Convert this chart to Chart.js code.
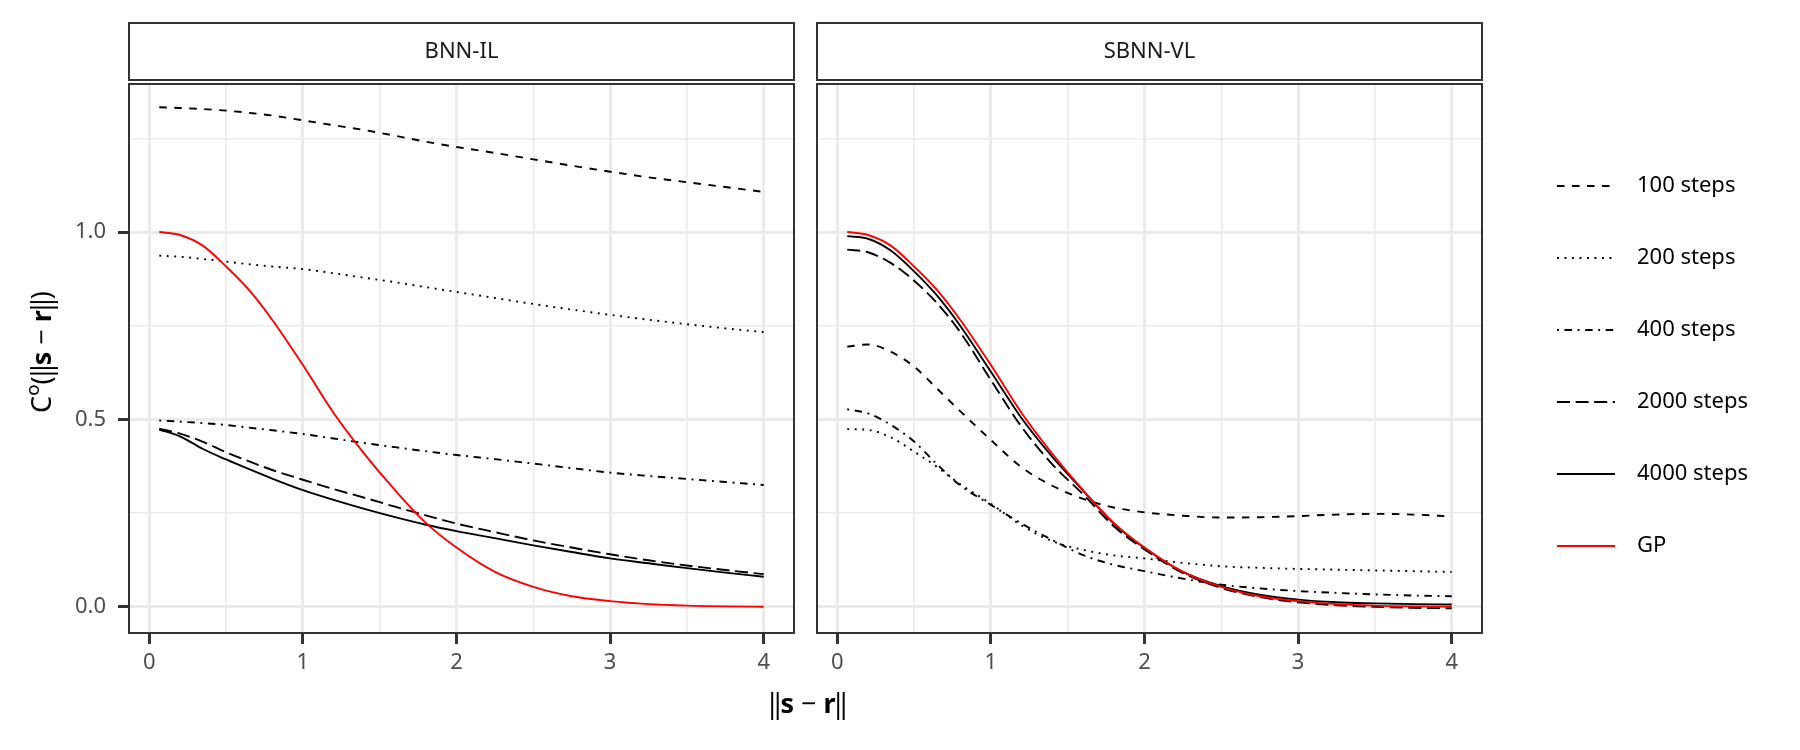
<!DOCTYPE html>
<html>
<head>
<meta charset="utf-8">
<script src="https://cdn.jsdelivr.net/npm/chart.js@4.4.1/dist/chart.umd.min.js"></script>
<style>
  html, body { margin: 0; padding: 0; background: #ffffff; }
  #wrap { position: relative; width: 1800px; height: 750px; overflow: hidden; background: #ffffff; }
  #wrap canvas { position: absolute; top: 0; }
</style>
</head>
<body>
<div id="wrap">
  <canvas id="leftPanel" width="800" height="750" style="left:0"></canvas>
  <canvas id="rightPanel" width="700" height="750" style="left:800px"></canvas>
  <canvas id="overlay" width="1800" height="750" style="left:0"></canvas>
</div>
<script>
// distances ||s - r|| at which the covariance was read
const distances = [0.065, 0.2, 0.35, 0.5, 0.65, 0.8, 1.0, 1.2, 1.4, 1.6, 1.8, 2.0, 2.25, 2.5, 2.75, 3.0, 3.25, 3.5, 3.75, 4.0];

// GP reference covariance (same in both panels)
const gp = [1.0, 0.992, 0.963, 0.908, 0.845, 0.766, 0.645, 0.517, 0.408, 0.311, 0.224, 0.158, 0.093, 0.053, 0.028, 0.015, 0.007, 0.003, 0.001, 0.0];

// BNN-IL panel
const bnnIL100 = [1.333, 1.331, 1.328, 1.324, 1.318, 1.311, 1.298, 1.285, 1.272, 1.257, 1.241, 1.227, 1.211, 1.194, 1.177, 1.161, 1.146, 1.133, 1.120, 1.107];
const bnnIL200 = [0.937, 0.934, 0.928, 0.921, 0.914, 0.908, 0.901, 0.890, 0.878, 0.866, 0.853, 0.840, 0.824, 0.808, 0.793, 0.779, 0.766, 0.754, 0.743, 0.733];
const bnnIL400 = [0.497, 0.494, 0.490, 0.485, 0.478, 0.471, 0.461, 0.449, 0.437, 0.426, 0.415, 0.405, 0.394, 0.382, 0.370, 0.358, 0.349, 0.341, 0.333, 0.325];
const bnnIL2000 = [0.475, 0.462, 0.440, 0.412, 0.388, 0.365, 0.339, 0.314, 0.291, 0.267, 0.244, 0.222, 0.199, 0.177, 0.158, 0.140, 0.124, 0.110, 0.098, 0.087];
const bnnIL4000 = [0.473, 0.455, 0.421, 0.393, 0.367, 0.342, 0.311, 0.285, 0.261, 0.239, 0.219, 0.202, 0.183, 0.164, 0.146, 0.129, 0.116, 0.103, 0.091, 0.080];

// SBNN-VL panel
const sbnnVL100 = [0.694, 0.700, 0.680, 0.641, 0.582, 0.522, 0.445, 0.372, 0.323, 0.288, 0.265, 0.252, 0.243, 0.238, 0.239, 0.242, 0.246, 0.248, 0.246, 0.241];
const sbnnVL200 = [0.474, 0.472, 0.452, 0.414, 0.373, 0.327, 0.275, 0.217, 0.175, 0.152, 0.137, 0.129, 0.117, 0.108, 0.104, 0.101, 0.099, 0.097, 0.095, 0.093];
const sbnnVL400 = [0.527, 0.516, 0.485, 0.441, 0.380, 0.324, 0.272, 0.222, 0.178, 0.138, 0.112, 0.095, 0.075, 0.059, 0.049, 0.042, 0.037, 0.033, 0.030, 0.028];
const sbnnVL2000 = [0.953, 0.946, 0.917, 0.870, 0.810, 0.733, 0.605, 0.480, 0.380, 0.300, 0.215, 0.153, 0.090, 0.050, 0.026, 0.012, 0.004, 0.0, -0.003, -0.004];
const sbnnVL4000 = [0.989, 0.982, 0.950, 0.895, 0.830, 0.750, 0.627, 0.503, 0.400, 0.310, 0.222, 0.157, 0.093, 0.055, 0.032, 0.019, 0.012, 0.009, 0.007, 0.006];

const seriesNames = ['100 steps', '200 steps', '400 steps', '2000 steps', '4000 steps', 'GP'];
const panelTitles = ['BNN-IL', 'SBNN-VL'];
const xTicks = [0, 0.5, 1, 1.5, 2, 2.5, 3, 3.5, 4];
const yTicks = [0, 0.25, 0.5, 0.75, 1, 1.25];

// styling (ggplot linetypes scaled to the line width)
const lineColors = ['#000000', '#000000', '#000000', '#000000', '#000000', '#FF0000'];
const lineDashes = [[7.5, 7.5], [1.9, 5.6], [1.9, 5.6, 7.5, 5.6], [13, 5.6], [], []];
const LINE_W = 1.9;
const FONT = "'Noto Sans', 'Open Sans', sans-serif";

const isMajorX = v => Math.abs(v - Math.round(v)) < 1e-9;
const isMajorY = v => Math.abs(v * 2 - Math.round(v * 2)) < 1e-9;

// strip on top of each panel + dark panel border
const panelDecor = {
    id: 'panelDecor',
    afterDatasetsDraw(chart) {
        const { ctx, chartArea: a } = chart;
        ctx.save();
        ctx.strokeStyle = '#333333';
        ctx.lineWidth = 2;
        ctx.strokeRect(a.left, a.top, a.right - a.left, a.bottom - a.top);
        ctx.restore();
    },
    afterDraw(chart, args, opts) {
        const { ctx, chartArea: a } = chart;
        ctx.save();
        ctx.fillStyle = '#ffffff';
        ctx.fillRect(a.left, 23, a.right - a.left, 57);
        ctx.strokeStyle = '#333333';
        ctx.lineWidth = 2;
        ctx.strokeRect(a.left, 23, a.right - a.left, 57);
        ctx.fillStyle = '#1A1A1A';
        ctx.font = `22px ${FONT}`;
        ctx.textAlign = 'center';
        ctx.textBaseline = 'middle';
        ctx.fillText(opts.title, (a.left + a.right) / 2, 52);
        ctx.restore();
    }
};

function buildDatasets(series) {
    return series.map((values, i) => ({
        label: seriesNames[i],
        data: distances.map((d, k) => ({ x: d, y: values[k] })),
        borderColor: lineColors[i],
        borderDash: lineDashes[i],
        borderWidth: LINE_W,
        pointRadius: 0,
        fill: false,
        cubicInterpolationMode: 'monotone',
        order: seriesNames.length - i
    }));
}

function makePanel(canvasId, title, series, showY, padding) {
    return new Chart(document.getElementById(canvasId), {
        type: 'line',
        data: { datasets: buildDatasets(series) },
        plugins: [panelDecor],
        options: {
            responsive: false,
            animation: false,
            layout: { padding },
            plugins: {
                legend: { display: false },
                tooltip: { enabled: false },
                panelDecor: { title }
            },
            scales: {
                x: {
                    type: 'linear',
                    min: -0.132,
                    max: 4.197,
                    afterBuildTicks: s => { s.ticks = xTicks.map(v => ({ value: v })); },
                    afterFit: s => { s.height = 117; },
                    border: { display: false },
                    grid: {
                        color: '#EBEBEB',
                        lineWidth: c => isMajorX(c.tick.value) ? 3 : 1.6,
                        tickColor: c => isMajorX(c.tick.value) ? '#333333' : 'rgba(0,0,0,0)',
                        tickWidth: c => isMajorX(c.tick.value) ? 3 : 0,
                        tickLength: 11
                    },
                    ticks: {
                        autoSkip: false,
                        maxRotation: 0,
                        padding: 6,
                        color: '#4D4D4D',
                        font: { family: FONT, size: 22 },
                        callback: v => isMajorX(v) ? String(Math.round(v)) : ''
                    }
                },
                y: {
                    type: 'linear',
                    min: -0.07,
                    max: 1.395,
                    afterBuildTicks: s => { s.ticks = yTicks.map(v => ({ value: v })); },
                    afterFit: s => { s.width = showY ? 129 : 0; },
                    border: { display: false },
                    grid: {
                        color: '#EBEBEB',
                        lineWidth: c => isMajorY(c.tick.value) ? 3 : 1.6,
                        drawTicks: showY,
                        tickColor: c => isMajorY(c.tick.value) ? '#333333' : 'rgba(0,0,0,0)',
                        tickWidth: c => isMajorY(c.tick.value) ? 3 : 0,
                        tickLength: 11
                    },
                    ticks: {
                        display: showY,
                        padding: 12,
                        color: '#4D4D4D',
                        font: { family: FONT, size: 22 },
                        callback: v => isMajorY(v) ? v.toFixed(1) : ''
                    }
                }
            }
        }
    });
}

// mixed plain / bold text centred on (cx, cy); a run may force its own advance
function drawRuns(ctx, runs, cx, cy, size) {
    const fontOf = r => `${r.bold ? 'bold ' : ''}${size * (r.scale || 1)}px ${FONT}`;
    let total = 0;
    runs.forEach(r => {
        ctx.font = fontOf(r);
        r.w = r.adv !== undefined ? r.adv : ctx.measureText(r.text).width;
        total += r.w;
    });
    let x = cx - total / 2;
    runs.forEach(r => {
        ctx.font = fontOf(r);
        if (r.adv !== undefined) {
            ctx.textAlign = 'center';
            ctx.fillText(r.text, x + r.w / 2, cy + (r.dy || 0) * size);
            ctx.textAlign = 'left';
        } else {
            ctx.fillText(r.text, x, cy + (r.dy || 0) * size);
        }
        x += r.w;
    });
}

const bar = { text: '|', adv: 5.5 };
const normRuns = [
    bar, bar, { text: 's', bold: true }, { text: ' \u2212 ' }, { text: 'r', bold: true }, bar, bar
];

function drawOverlay() {
    const ctx = document.getElementById('overlay').getContext('2d');
    ctx.fillStyle = '#000000';
    ctx.textAlign = 'left';
    ctx.textBaseline = 'middle';

    drawRuns(ctx, normRuns.map(r => ({ ...r })), 808, 705, 27);

    ctx.save();
    ctx.translate(43, 352);
    ctx.rotate(-Math.PI / 2);
    drawRuns(ctx, [
        { text: 'C' }, { text: 'o', scale: 0.7, dy: -0.35 }, { text: '(' },
        ...normRuns.map(r => ({ ...r })), { text: ')' }
    ], 0, 0, 27);
    ctx.restore();

    // legend
    seriesNames.forEach((name, i) => {
        const y = 186 + i * 72;
        ctx.save();
        ctx.strokeStyle = lineColors[i];
        ctx.lineWidth = LINE_W;
        ctx.setLineDash(lineDashes[i]);
        ctx.beginPath();
        ctx.moveTo(1557, y);
        ctx.lineTo(1615, y);
        ctx.stroke();
        ctx.restore();
        ctx.font = `22px ${FONT}`;
        ctx.fillStyle = '#000000';
        ctx.fillText(name, 1637, y);
    });
}

function render() {
    makePanel('leftPanel', panelTitles[0], [bnnIL100, bnnIL200, bnnIL400, bnnIL2000, bnnIL4000, gp], true,
        { top: 84, right: 6, left: 0, bottom: 0 });
    makePanel('rightPanel', panelTitles[1], [sbnnVL100, sbnnVL200, sbnnVL400, sbnnVL2000, sbnnVL4000, gp], false,
        { top: 84, right: 18, left: 17, bottom: 0 });
    drawOverlay();
}

Promise.all([
    document.fonts.load(`22px 'Noto Sans'`),
    document.fonts.load(`bold 27px 'Noto Sans'`)
]).catch(() => {}).then(render);
</script>
</body>
</html>
